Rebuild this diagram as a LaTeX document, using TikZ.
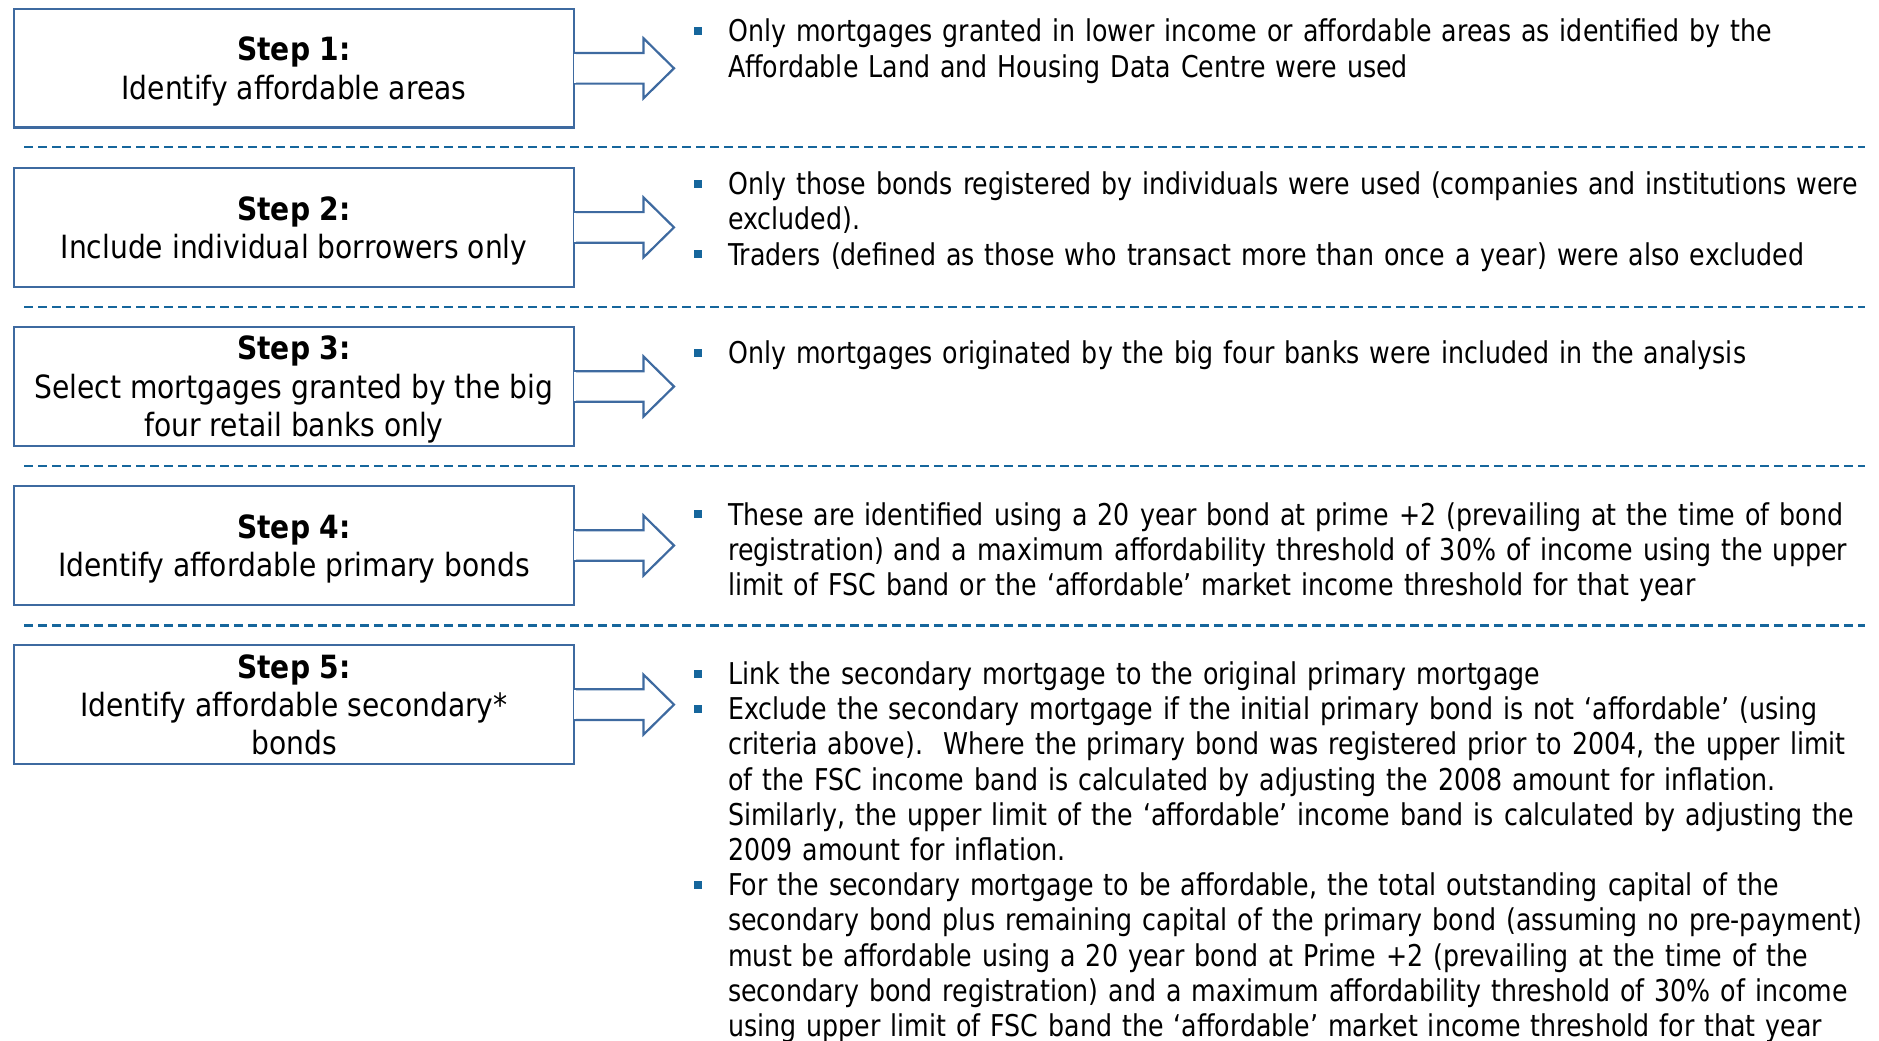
\documentclass[tikz,border=0pt]{standalone}
\usepackage{fontspec}
\setmainfont{DejaVu Sans}[FakeStretch=0.843]
\newfontfamily\boxfont{DejaVu Sans}[FakeStretch=0.88]
\usetikzlibrary{calc}
\definecolor{boxc}{RGB}{62,106,160}
\definecolor{dashc}{RGB}{22,102,156}
\newcommand\bxs{\rule[-7.4pt]{0pt}{38.3pt}}
\begin{document}
\begin{tikzpicture}[x=1pt,y=-1pt,
  stepbox/.style={draw=boxc, line width=2.2pt, fill=white, minimum width=560pt,
    minimum height=118.5pt, inner sep=0pt, align=center,
    font=\boxfont\fontsize{32}{38.3}\selectfont},
  item/.style={anchor=base west, inner sep=0pt, text width=1200pt, align=left,
    font=\fontsize{30}{35.3}\selectfont},
  sepline/.style={draw=dashc, line width=2.3pt, dash pattern=on 8.7pt off 5.3pt},
  blockarrow/.style={draw=boxc, line width=2.2pt, fill=white, line join=miter},
  bulletmark/.style={fill=dashc}]
\useasboundingbox (0,0) rectangle (1879,1041);

% separators
\foreach \yy in {147.3,306.7,466.1,625.5}
  \draw[sepline] (24,\yy) -- (1865,\yy);

% step boxes
\node[stepbox] (s1) at (294,68.3)  {\textbf{Step 1:}\bxs\\Identify affordable areas\bxs};
\node[stepbox] (s2) at (294,227.4) {\textbf{Step 2:}\bxs\\Include individual borrowers only\bxs};
\node[stepbox] (s3) at (294,386.5) {\textbf{Step 3:}\bxs\\Select mortgages granted by the big\bxs\\four retail banks only\bxs};
\node[stepbox] (s4) at (294,545.5) {\textbf{Step 4:}\bxs\\Identify affordable primary bonds\bxs};
\node[stepbox] (s5) at (294,704.6) {\textbf{Step 5:}\bxs\\Identify affordable secondary*\bxs\\bonds\bxs};

% block arrows
\foreach \s in {s1,s2,s3,s4,s5}{
  \draw[blockarrow] ($(\s.east)+(0,-15.3)$) -- ++(68.4,0) -- ++(0,-14.7) -- ++(30.5,30)
     -- ++(-30.5,30) -- ++(0,-14.7) -- ++(-68.4,0);
  \fill[white] ($(\s.east)+(-1.3,-14.2)$) rectangle ($(\s.east)+(1.3,14.2)$);
}

% texts
\node[item] (t1) at (728,42) {Only mortgages granted in lower income or affordable areas as identified by the\\Affordable Land and Housing Data Centre were used};
\node[item] (t2a) at (728,194.5) {Only those bonds registered by individuals were used (companies and institutions were\\excluded).};
\node[item] (t2b) at (728,265) {Traders (defined as those who transact more than once a year) were also excluded};
\node[item] (t3) at (728,363.3) {Only mortgages originated by the big four banks were included in the analysis};
\node[item] (t4) at (728,525) {These are identified using a 20 year bond at prime +2 (prevailing at the time of bond\\registration) and a maximum affordability threshold of 30\% of income using the upper\\limit of FSC band or the ‘affordable’ market income threshold for that year};
\node[item] (t5a) at (728,684.4) {Link the secondary mortgage to the original primary mortgage};
\node[item] (t5b) at (728,719.6) {Exclude the secondary mortgage if the initial primary bond is not ‘affordable’ (using\\criteria above).\ \ Where the primary bond was registered prior to 2004, the upper limit\\of the FSC income band is calculated by adjusting the 2008 amount for inflation.\\Similarly, the upper limit of the ‘affordable’ income band is calculated by adjusting the\\2009 amount for inflation.};
\node[item] (t5c) at (728,895.6) {For the secondary mortgage to be affordable, the total outstanding capital of the\\secondary bond plus remaining capital of the primary bond (assuming no pre-payment)\\must be affordable using a 20 year bond at Prime +2 (prevailing at the time of the\\secondary bond registration) and a maximum affordability threshold of 30\% of income\\using upper limit of FSC band the ‘affordable’ market income threshold for that year};

% bullets
\foreach \t in {t1,t2a,t2b,t3,t4,t5a,t5b,t5c}
  \fill[bulletmark] ($(\t.base west)+(-34,-14.6)$) rectangle ++(8,8);
\end{tikzpicture}
\end{document}
